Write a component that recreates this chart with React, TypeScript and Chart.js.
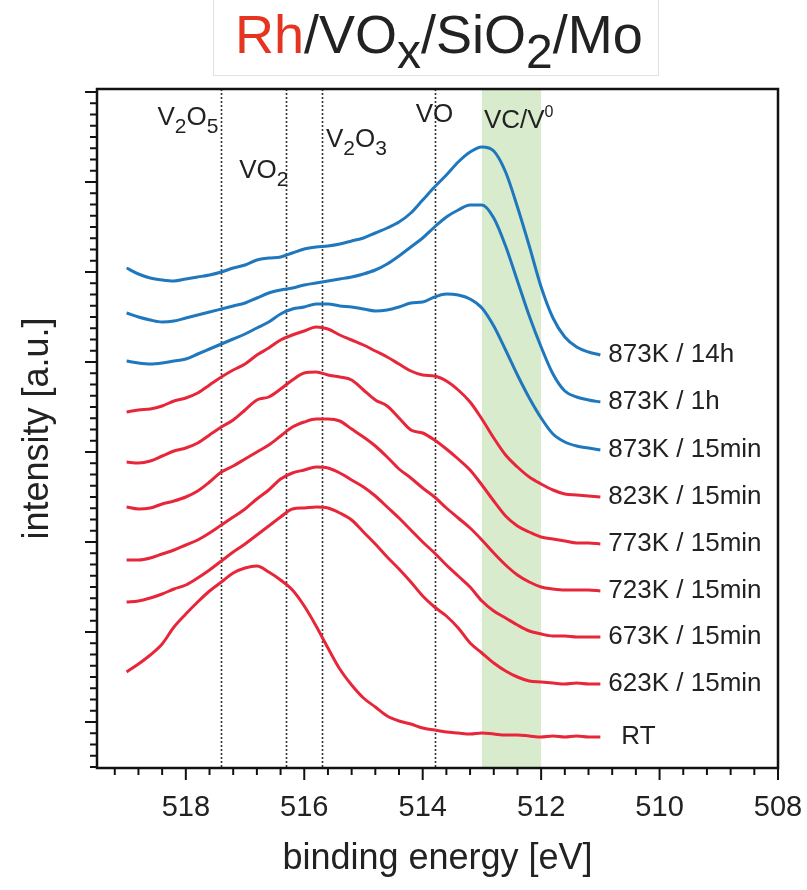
import React, { useEffect, useRef } from "react";
import { Chart, registerables } from "chart.js";

Chart.register(...registerables);

const FONT = '"Liberation Sans", Arial, Helvetica, sans-serif';

// binding energy grid [eV]
const energy = [
  519.0, 518.8, 518.6, 518.4, 518.2, 518.0, 517.8, 517.6, 517.4, 517.2,
  517.0, 516.8, 516.6, 516.4, 516.2, 516.0, 515.8, 515.6, 515.4, 515.2,
  515.0, 514.8, 514.6, 514.4, 514.2, 514.0, 513.8, 513.6, 513.4, 513.2,
  513.0, 512.8, 512.6, 512.4, 512.2, 512.0, 511.8, 511.6, 511.4, 511.2,
  511.0,
];

// intensities (offset-stacked, arbitrary units)
const i873_14h = [
  500, 494, 490, 488, 487, 489, 491, 493, 496, 500,
  503, 508, 510, 511, 515, 519, 521, 522, 524, 527,
  530, 535, 540, 546, 555, 568, 581, 593, 606, 616,
  621, 617, 596, 561, 522, 481, 450, 431, 421, 416,
  413,
];
const i873_1h = [
  455, 451, 448, 446, 447, 450, 453, 456, 459, 462,
  465, 470, 475, 478, 480, 483, 485, 487, 489, 491,
  494, 498, 504, 512, 521, 530, 541, 551, 558, 563,
  563, 550, 522, 487, 452, 421, 394, 377, 371, 368,
  366,
];
const i873_15 = [
  407, 405, 404, 405, 407, 409, 414, 419, 424, 429,
  434, 440, 446, 454, 459, 461, 464, 464, 462, 461,
  459, 457, 458, 461, 465, 466, 471, 474, 473, 469,
  460, 442, 418, 393, 370, 350, 334, 326, 322, 320,
  318,
];
const i823_15 = [
  356, 358, 359, 362, 367, 370, 375, 383, 391, 398,
  404, 413, 420, 428, 433, 437, 441, 439, 433, 428,
  423, 417, 411, 404, 397, 393, 392, 387, 378, 366,
  349, 330, 313, 301, 291, 284, 278, 274, 273, 272,
  271,
];
const i773_15 = [
  306, 305, 307, 312, 317, 320, 325, 333, 341, 348,
  358, 368, 371, 379, 388, 395, 396, 393, 391, 388,
  378, 368, 362, 350, 338, 335, 328, 319, 309, 298,
  283, 267, 252, 242, 236, 231, 229, 227, 225, 225,
  224,
];
const i723_15 = [
  261, 259, 260, 264, 267, 271, 277, 286, 296, 302,
  309, 316, 323, 332, 341, 346, 349, 349, 347, 339,
  331, 322, 311, 299, 290, 280, 271, 260, 250, 240,
  228, 215, 203, 193, 186, 181, 179, 178, 178, 178,
  177,
];
const i673_15 = [
  208, 208, 210, 214, 218, 223, 228, 235, 243, 251,
  259, 269, 278, 289, 295, 298, 301, 300, 295, 288,
  281, 272, 261, 250, 238, 226, 215, 203, 192, 181,
  167, 157, 150, 143, 137, 134, 132, 132, 131, 131,
  131,
];
const i623_15 = [
  166, 167, 170, 174, 179, 183, 190, 198, 207, 216,
  224, 233, 242, 251, 259, 260, 261, 260, 255, 248,
  236, 224, 211, 199, 186, 172, 161, 152, 140, 125,
  115, 105, 97, 91, 87, 86, 85, 84, 85, 84,
  84,
];
const iRT = [
  96, 104, 113, 124, 141, 154, 166, 177, 186, 195,
  200, 202, 196, 188, 178, 162, 142, 120, 99, 83,
  70, 61, 52, 47, 44, 40, 38, 36, 35, 34,
  35, 34, 33, 33, 32, 31, 32, 31, 32, 31,
  31,
];

const seriesNames = [
  "873K / 14h", "873K / 1h", "873K / 15min", "823K / 15min", "773K / 15min",
  "723K / 15min", "673K / 15min", "623K / 15min", "RT",
];
const seriesValues = [i873_14h, i873_1h, i873_15, i823_15, i773_15, i723_15, i673_15, i623_15, iRT];

// reference positions [eV]
const refLines = [517.4, 516.3, 515.7, 513.8];
const bandRange = [513.0, 512.0];
const yMajorTicks = [46, 136, 226, 317, 407, 497, 588, 678];
const yMinorPerMajor = 8;
const xMinorStep = 0.4;

// styles
const BLUE = "#1f77bd";
const RED = "#e8263a";
const TITLE_RED = "#e5341f";
const TEXT = "#222222";
const seriesColor = (i: number) => (i < 3 ? BLUE : RED);

type Part = { t: string; s?: "sub" | "sup"; c?: string };
const refLabelParts: Part[][] = [
  [{ t: "V" }, { t: "2", s: "sub" }, { t: "O" }, { t: "5", s: "sub" }],
  [{ t: "VO" }, { t: "2", s: "sub" }],
  [{ t: "V" }, { t: "2", s: "sub" }, { t: "O" }, { t: "3", s: "sub" }],
  [{ t: "VO" }],
];
const refLabelLayout = [
  { align: "right", dx: -3, base: 36 },
  { align: "right", dx: 2, base: 89 },
  { align: "left", dx: 4, base: 58 },
  { align: "center", dx: 0, base: 33 },
];
const bandLabelParts: Part[] = [{ t: "VC/V" }, { t: "0", s: "sup" }];
const titleParts: Part[] = [
  { t: "Rh", c: TITLE_RED }, { t: "/VO" }, { t: "x", s: "sub" }, { t: "/SiO" }, { t: "2", s: "sub" }, { t: "/Mo" },
];

function drawRich(
  ctx: CanvasRenderingContext2D, parts: Part[], x: number, y: number, align: string,
  size: number, subSize: number, subDy: number, supSize: number, supDy: number,
) {
  const items = parts.map((p) => {
    const sz = p.s === "sub" ? subSize : p.s === "sup" ? supSize : size;
    ctx.font = `${sz}px ${FONT}`;
    return { ...p, sz, w: ctx.measureText(p.t).width };
  });
  const total = items.reduce((a, b) => a + b.w, 0);
  let cx = align === "right" ? x - total : align === "center" ? x - total / 2 : x;
  ctx.textAlign = "left";
  ctx.textBaseline = "alphabetic";
  items.forEach((p) => {
    ctx.font = `${p.sz}px ${FONT}`;
    ctx.fillStyle = p.c || TEXT;
    const dy = p.s === "sub" ? subDy : p.s === "sup" ? -supDy : 0;
    ctx.fillText(p.t, cx, y + dy);
    cx += p.w;
  });
}

const decorPlugin = {
  id: "decor",
  beforeDatasetsDraw(chart: any) {
    const { ctx, chartArea: a, scales } = chart;
    const x = scales.x;
    ctx.save();
    const b1 = x.getPixelForValue(bandRange[0]);
    const b2 = x.getPixelForValue(bandRange[1]);
    ctx.fillStyle = "#d8ebcd";
    ctx.fillRect(Math.min(b1, b2), a.top, Math.abs(b2 - b1), a.bottom - a.top);
    ctx.strokeStyle = "#333333";
    ctx.lineWidth = 1.6;
    ctx.setLineDash([2, 2]);
    refLines.forEach((e) => {
      const px = Math.round(x.getPixelForValue(e)) + 0.5;
      ctx.beginPath();
      ctx.moveTo(px, a.top);
      ctx.lineTo(px, a.bottom);
      ctx.stroke();
    });
    ctx.restore();
  },
  afterDatasetsDraw(chart: any) {
    const { ctx, chartArea: a, scales } = chart;
    const x = scales.x;
    const y = scales.y;
    ctx.save();
    // reference labels
    refLines.forEach((e, i) => {
      const L = refLabelLayout[i];
      drawRich(ctx, refLabelParts[i], x.getPixelForValue(e) + L.dx, a.top + L.base, L.align, 26, 21, 8, 16, 10);
    });
    const bl = Math.min(x.getPixelForValue(bandRange[0]), x.getPixelForValue(bandRange[1]));
    drawRich(ctx, bandLabelParts, bl + 2, a.top + 39, "left", 26, 21, 8, 16, 11);
    // series labels
    ctx.font = `26px ${FONT}`;
    ctx.fillStyle = TEXT;
    ctx.textBaseline = "middle";
    ctx.textAlign = "left";
    seriesValues.forEach((vals, i) => {
      const last = vals.length - 1;
      const px = x.getPixelForValue(energy[last]) + (seriesNames[i] === "RT" ? 21 : 8);
      const py = y.getPixelForValue(vals[last]);
      ctx.fillText(seriesNames[i], px, py);
    });
    // frame
    ctx.strokeStyle = "#111111";
    ctx.lineWidth = 2.5;
    ctx.setLineDash([]);
    ctx.strokeRect(a.left, a.top, a.right - a.left, a.bottom - a.top);
    // x ticks
    ctx.lineWidth = 2;
    const xt = x.ticks.map((t: any) => t.value);
    const xStart = Math.min(...xt);
    for (let k = 0; ; k++) {
      const v = xStart + k * xMinorStep;
      if (v > x.max + 1e-9) break;
      const px = x.getPixelForValue(v);
      const len = k % 5 === 0 ? 12 : 7;
      ctx.beginPath();
      ctx.moveTo(px, a.bottom);
      ctx.lineTo(px, a.bottom + len);
      ctx.stroke();
    }
    // y ticks
    const yStep = (yMajorTicks[1] - yMajorTicks[0]) / yMinorPerMajor;
    for (let k = -yMinorPerMajor; ; k++) {
      const v = yMajorTicks[0] + k * yStep;
      if (v > y.max + 1e-9) break;
      if (v < y.min - 1e-9) continue;
      const py = y.getPixelForValue(v);
      const len = ((k % yMinorPerMajor) + yMinorPerMajor) % yMinorPerMajor === 0 ? 12 : 7;
      ctx.beginPath();
      ctx.moveTo(a.left, py);
      ctx.lineTo(a.left - len, py);
      ctx.stroke();
    }
    ctx.restore();
  },
  afterDraw(chart: any) {
    const { ctx } = chart;
    ctx.save();
    ctx.strokeStyle = "#e2e2e2";
    ctx.lineWidth = 1;
    ctx.strokeRect(213.5, -1, 445, 76.5);
    drawRich(ctx, titleParts, 235, 53, "left", 54, 48, 15, 30, 10);
    ctx.restore();
  },
};

export default function App() {
  const ref = useRef<HTMLCanvasElement>(null);
  useEffect(() => {
    const canvas = ref.current;
    if (!canvas) return;
    const chart = new Chart(canvas, {
      type: "line",
      data: {
        datasets: seriesValues.map((vals, i) => ({
          label: seriesNames[i],
          data: vals.map((v, j) => ({ x: energy[j], y: v })),
          borderColor: seriesColor(i),
          backgroundColor: seriesColor(i),
          borderWidth: 3,
          pointRadius: 0,
          cubicInterpolationMode: "monotone",
          fill: false,
        })),
      },
      options: {
        responsive: false,
        animation: false,
        devicePixelRatio: 1,
        events: [],
        layout: { padding: { top: 89, right: 29, left: 0, bottom: 0 } },
        plugins: { legend: { display: false }, tooltip: { enabled: false }, title: { display: false } },
        scales: {
          x: {
            type: "linear",
            reverse: true,
            min: 508,
            max: 519.5,
            grid: { display: false, drawTicks: false },
            border: { display: false },
            ticks: {
              stepSize: 2,
              includeBounds: false,
              padding: 23,
              color: TEXT,
              maxRotation: 0,
              autoSkip: false,
              font: { family: FONT, size: 29 },
            },
            title: {
              display: true,
              text: "binding energy [eV]",
              color: TEXT,
              font: { family: FONT, size: 36 },
              padding: { top: 0, bottom: 9 },
            },
            afterFit: (s: any) => {
              s.height = 122;
              s.paddingLeft = 0;
              s.paddingRight = 0;
            },
          },
          y: {
            type: "linear",
            min: 0,
            max: 679,
            grid: { display: false, drawTicks: false },
            border: { display: false },
            ticks: { display: false },
            afterBuildTicks: (s: any) => {
              s.ticks = yMajorTicks.map((value) => ({ value }));
            },
            title: {
              display: true,
              text: "intensity [a.u.]",
              color: TEXT,
              font: { family: FONT, size: 36 },
              padding: { top: 16, bottom: 0 },
            },
            afterFit: (s: any) => {
              s.width = 97;
              s.paddingTop = 0;
              s.paddingBottom = 0;
            },
          },
        },
      } as any,
      plugins: [decorPlugin],
    });
    return () => chart.destroy();
  }, []);
  return (
    <div style={{ position: "absolute", left: 0, top: 0, width: 807, height: 890, background: "#fff" }}>
      <canvas ref={ref} width={807} height={890} style={{ display: "block" }} />
    </div>
  );
}
